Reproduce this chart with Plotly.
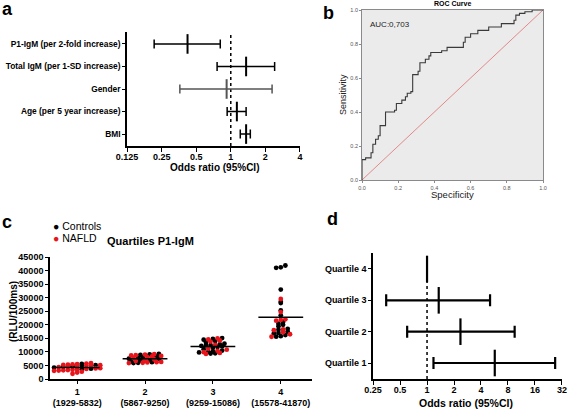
import numpy as np
import plotly.graph_objects as go

W, H = 567, 410
FONT = "Arial, Liberation Sans, sans-serif"

# ---------------- data ----------------
# panel a
a_labels = ["BMI", "Age (per 5 year increase)", "Gender", "Total IgM (per 1-SD increase)", "P1-IgM (per 2-fold increase)"]
a_or = [1.36, 1.13, 0.92, 1.36, 0.42]
a_lo = [1.21, 0.93, 0.36, 0.76, 0.215]
a_hi = [1.48, 1.36, 2.29, 2.41, 0.81]
a_ticks = [0.125, 0.25, 0.5, 1, 2, 4]

# panel b (ROC step corners)
roc_spec = [0, 0, 0.02, 0.05, 0.06, 0.075, 0.09, 0.10, 0.13, 0.18, 0.19, 0.22, 0.24, 0.25, 0.27, 0.28,
            0.31, 0.32, 0.35, 0.37, 0.38, 0.44, 0.47, 0.56, 0.57, 0.60, 0.64, 0.70, 0.77, 0.84, 0.85,
            0.87, 0.90, 0.94, 1.0]
roc_sens = [0, 0.12, 0.13, 0.16, 0.21, 0.24, 0.26, 0.32, 0.40, 0.41, 0.45, 0.47, 0.49, 0.51, 0.52, 0.62,
            0.64, 0.69, 0.71, 0.73, 0.75, 0.76, 0.78, 0.81, 0.84, 0.86, 0.88, 0.90, 0.92, 0.94, 0.97,
            0.98, 0.99, 1.0, 1.0]
auc_text = "AUC:0,703"

# panel c
q_names = ["1", "2", "3", "4"]
q_ranges = ["(1929-5832)", "(5867-9250)", "(9259-15086)", "(15578-41870)"]
q1_ctrl = [5600, 5100, 4900, 4700, 4500, 4200, 3800, 3600]
q1_nafld = [5832, 5700, 5500, 5400, 5300, 5200, 5100, 5000, 4900, 4800, 4600, 4400, 4000, 3900, 3700,
            3500, 3400, 3300, 3200, 3100, 3000, 2700, 2400, 1929]
q2_ctrl = [9250, 9100, 8900, 8400, 8000, 7800, 7500, 7300, 7000, 6800, 6500, 6200, 6000, 5900]
q2_nafld = [9200, 9000, 8800, 8700, 8500, 8300, 8100, 7700, 7200, 6900, 6600, 6300, 6100, 6000, 5867, 6200]
q3_ctrl = [15086, 14800, 14500, 14000, 13500, 13000, 12800, 12500, 12200, 12000, 11800, 11500, 11000,
           10500, 10200, 10000, 9800, 9500, 9400, 12400]
q3_nafld = [15000, 14600, 14200, 13800, 12600, 11200, 10800, 10400, 9900, 9600, 9259]
q4_ctrl = [41870, 41200, 41000, 33000, 28500, 28000, 25300, 23500, 21000, 20400, 20000, 19500, 18500,
           18200, 17500, 17000, 16800, 16200, 15800, 15600]
q4_nafld = [29500, 24700, 21800, 21500, 18300, 18000, 17200, 16500, 15578, 22000]
c_yticks = list(range(0, 45001, 5000))

# panel d
d_labels = ["Quartile 1", "Quartile 2", "Quartile 3", "Quartile 4"]
d_or = [5.7, 2.36, 1.35, 1.0]
d_lo = [1.18, 0.60, 0.35, 1.0]
d_hi = [26.9, 9.5, 5.05, 1.0]
d_ticks = [0.25, 0.5, 1, 2, 4, 8, 16, 32]


def px(x):
    return x / W


def py(y):
    return 1 - y / H


def fmt(v):
    return ("%g" % v)


fig = go.Figure()
bold_tick = dict(family=FONT, size=9, color="black", weight=700)

# ---------------- panel a ----------------
ya = list(range(len(a_labels)))
fig.add_trace(go.Scatter(x=[1, 1], y=[-0.53, 4.53], mode="lines", xaxis="x", yaxis="y",
                         line=dict(color="black", width=1.5, dash="dot"), showlegend=False))
for i in range(len(a_labels)):
    col = "#555555" if a_labels[i] == "Gender" else "black"
    fig.add_trace(go.Scatter(
        x=[a_or[i]], y=[ya[i]], mode="markers", xaxis="x", yaxis="y", showlegend=False,
        marker=dict(symbol="line-ns", size=14, line=dict(color=col, width=2)),
        error_x=dict(type="data", symmetric=False, array=[a_hi[i] - a_or[i]],
                     arrayminus=[a_or[i] - a_lo[i]], color=col, thickness=1.5, width=4.5)))

# ---------------- panel b ----------------
fig.add_trace(go.Scatter(x=[0, 1], y=[0, 1], mode="lines", xaxis="x2", yaxis="y2", showlegend=False,
                         line=dict(color="#e07070", width=0.8)))
fig.add_trace(go.Scatter(x=roc_spec, y=roc_sens, mode="lines", line_shape="hv", xaxis="x2", yaxis="y2",
                         showlegend=False, line=dict(color="#3a3a3a", width=1.1)))

# ---------------- panel c ----------------
groups = [(q1_ctrl, q1_nafld), (q2_ctrl, q2_nafld), (q3_ctrl, q3_nafld), (q4_ctrl, q4_nafld)]
binsize = 1150.0
dx = 0.068
xs_c, ys_c, xs_n, ys_n = [], [], [], []
for gi, (ctrl, naf) in enumerate(groups):
    pts = [(v, 0) for v in ctrl] + [(v, 1) for v in naf]
    bins = {}
    for v, k in pts:
        b = int(round(v / binsize))
        bins.setdefault(b, []).append((v, k))
    for b, items in bins.items():
        items = sorted(items, key=lambda t: (t[0]))
        n = len(items)
        for j, (v, k) in enumerate(items):
            off = (j - (n - 1) / 2.0) * dx
            if k == 0:
                xs_c.append(gi + off); ys_c.append(v)
            else:
                xs_n.append(gi + off); ys_n.append(v)
fig.add_trace(go.Scatter(x=xs_c, y=ys_c, mode="markers", xaxis="x3", yaxis="y3", showlegend=False,
                         marker=dict(color="black", size=4.8, line=dict(width=0))))
fig.add_trace(go.Scatter(x=xs_n, y=ys_n, mode="markers", xaxis="x3", yaxis="y3", showlegend=False,
                         marker=dict(color="#e8141c", size=4.8, line=dict(width=0))))
for gi, (ctrl, naf) in enumerate(groups):
    m = float(np.mean(list(ctrl) + list(naf)))
    fig.add_trace(go.Scatter(x=[gi - 0.33, gi + 0.33], y=[m, m], mode="lines", xaxis="x3", yaxis="y3",
                             showlegend=False, line=dict(color="black", width=1.5)))

# ---------------- panel d ----------------
yd = list(range(len(d_labels)))
fig.add_trace(go.Scatter(x=[1, 1], y=[-0.51, 3.51], mode="lines", xaxis="x4", yaxis="y4",
                         line=dict(color="black", width=1.5, dash="dot"), showlegend=False))
for i in range(len(d_labels)):
    has_ci = d_hi[i] > d_lo[i]
    fig.add_trace(go.Scatter(
        x=[d_or[i]], y=[yd[i]], mode="markers", xaxis="x4", yaxis="y4", showlegend=False,
        marker=dict(symbol="line-ns", size=19, line=dict(color="black", width=2.2)),
        error_x=dict(type="data", symmetric=False, array=[d_hi[i] - d_or[i]],
                     arrayminus=[d_or[i] - d_lo[i]], color="black", thickness=2.2, width=6,
                     visible=has_ci)))

# ---------------- layout ----------------
axis_common = dict(showgrid=False, zeroline=False, showline=True, linecolor="black", linewidth=1.6,
                   ticks="outside", ticklen=4, tickwidth=1.4, tickcolor="black", tickfont=bold_tick,
                   automargin=False, ticklabeloverflow="allow")
roc_axis = dict(range=[0, 1], showgrid=False, zeroline=False, automargin=False,
                showline=True, mirror=True, linecolor="#8a8a8a", linewidth=0.8, ticks="outside",
                ticklen=2, tickcolor="#8a8a8a", tickvals=[0, 0.2, 0.4, 0.6, 0.8, 1.0],
                ticktext=["0.0", "0.2", "0.4", "0.6", "0.8", "1.0"],
                tickfont=dict(family=FONT, size=5.5, color="#555555"))

fig.update_layout(
    template="none",
    width=W, height=H, margin=dict(l=0, r=0, t=0, b=0, pad=0, autoexpand=False),
    paper_bgcolor="white", plot_bgcolor="rgba(0,0,0,0)",
    font=dict(family=FONT, color="black"),
    xaxis=dict(axis_common, type="log", domain=[px(127), px(300)],
               range=[np.log10(0.125) - 0.001, np.log10(4) + 0.001], tickvals=a_ticks,
               ticktext=[fmt(t) for t in a_ticks], anchor="y", ticklabelstandoff=-3),
    yaxis=dict(axis_common, domain=[py(146), py(32)], range=[-0.53, 4.53], tickvals=ya,
               ticktext=a_labels, anchor="x", ticklen=3,
               tickfont=dict(family=FONT, size=8.4, color="black", weight=700)),
    xaxis2=dict(roc_axis, domain=[px(362), px(543)], anchor="y2"),
    yaxis2=dict(roc_axis, domain=[py(180), py(10)], anchor="x2"),
    xaxis3=dict(axis_common, domain=[px(50), px(312)], range=[-0.4, 3.46], anchor="y3",
                tickvals=[0, 1, 2, 3], ticklen=3,
                ticktext=["%s<br>%s" % (q_names[i], q_ranges[i]) for i in range(4)]),
    yaxis3=dict(axis_common, domain=[py(379), py(257)], range=[0, 45000], anchor="x3",
                tickvals=c_yticks, ticktext=[str(t) for t in c_yticks], ticklen=3),
    xaxis4=dict(axis_common, type="log", domain=[px(373), px(562)],
                range=[np.log10(0.25) - 0.001, np.log10(32) + 0.001], tickvals=d_ticks,
                ticktext=[fmt(t) for t in d_ticks], anchor="y4", ticklabelstandoff=-3),
    yaxis4=dict(axis_common, domain=[py(379), py(253)], range=[-0.51, 3.51], tickvals=yd,
                ticktext=d_labels, anchor="x4", ticklen=3),
)

fig.add_shape(type="rect", xref="x2 domain", yref="y2 domain", x0=0, x1=1, y0=0, y1=1,
              fillcolor="#ebebeb", line=dict(width=0), layer="below")

ann = []
def A(text, x, y, size, bold=False, xanchor="center", yanchor="middle", angle=0, color="black", ref="paper"):
    d = dict(text=text, x=x, y=y, xref=ref, yref=ref, showarrow=False, xanchor=xanchor, yanchor=yanchor,
             textangle=angle, font=dict(family=FONT, size=size, color=color, weight=700 if bold else 400))
    ann.append(d)

# panel letters
A("a", px(0), py(9), 18, True, xanchor="left")
A("b", px(321), py(13), 18, True, xanchor="left")
A("c", px(0), py(222), 18, True, xanchor="left")
A("d", px(325), py(219), 18, True, xanchor="left")
# axis titles
A("Odds ratio (95%CI)", px(214), py(168), 10, True)
A("Odds ratio (95%CI)", px(466), py(403), 10.5, True)
A("ROC Curve", px(452), py(3.5), 7, True)
A("Sensitivity", px(343), py(95), 9, angle=-90, color="#222222")
A("Specificity", px(452), py(194), 9.5, color="#222222")
A("Quartiles P1-IgM", px(150), py(241), 11, True)
A("(RLU/100ms)", px(13), py(312), 10, True, angle=-90)
# legend
A("<span style='color:black'>●</span> Controls", px(51), py(226), 10.5, xanchor="left")
A("<span style='color:#e8141c'>●</span> NAFLD", px(51), py(238), 10.5, xanchor="left")
fig.update_layout(annotations=ann)
fig.add_annotation(text=auc_text, xref="x2 domain", yref="y2 domain", x=0.035, y=0.955,
                   xanchor="left", yanchor="top", showarrow=False,
                   font=dict(family=FONT, size=8, color="#222222"))

fig.write_html("out.html", config={"displayModeBar": False},
               post_script="document.body.style.margin='0px';document.body.style.overflow='hidden';")
